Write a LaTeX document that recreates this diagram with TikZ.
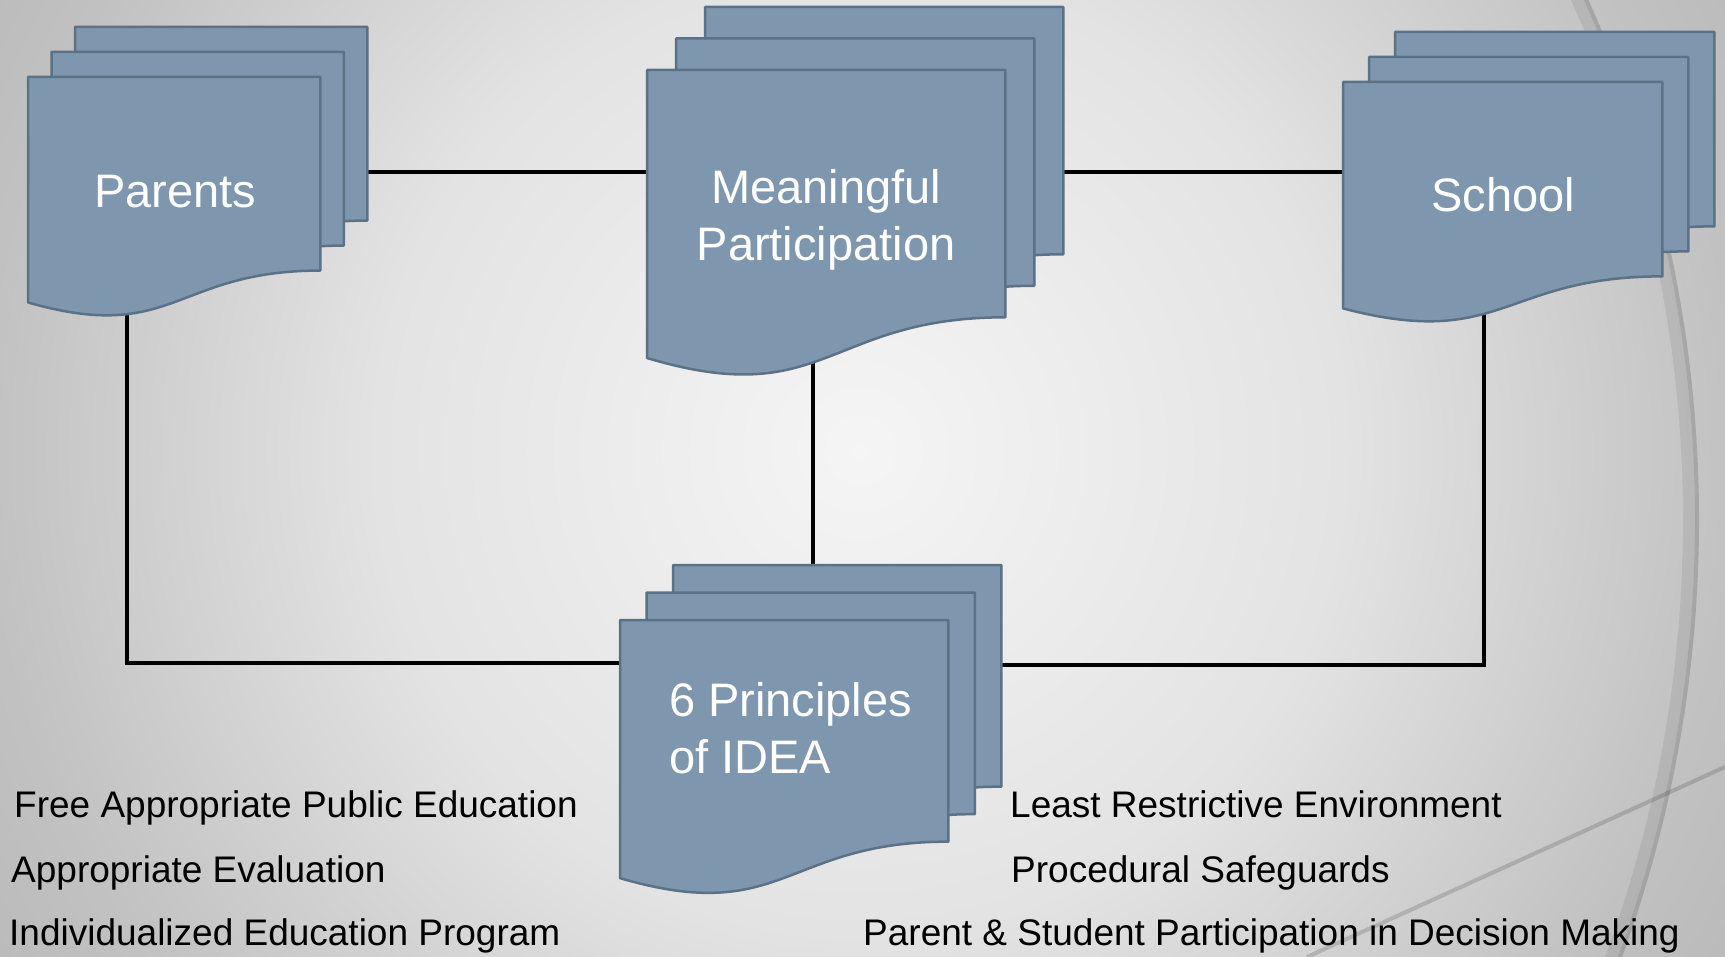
\documentclass[tikz,border=0pt]{standalone}
\usepackage{fontspec}
\setmainfont{Liberation Sans}
\usetikzlibrary{calc,positioning}

\pgfdeclarelayer{background}
\pgfsetlayers{background,main}

\definecolor{sheetblue}{HTML}{7F97AE}
\definecolor{sheetedge}{HTML}{5B7186}
\definecolor{bgin}{gray}{0.96}
\definecolor{bgmid}{gray}{0.89}
\definecolor{bgout}{gray}{0.76}
\definecolor{bgedge}{gray}{0.73}
\pgfdeclareradialshading{bgglow}{\pgfpoint{0bp}{0bp}}{color(0bp)=(bgin); color(12bp)=(bgmid); color(21.5bp)=(bgout); color(25bp)=(bgedge); color(50bp)=(bgedge)}

% one page with the wavy foot
\newcommand{\docpage}[1]{%
  \filldraw[page] (#1.north west) -- (#1.north east)
    -- ($(#1.north east)!0.8019!(#1.south east)$)
    .. controls ($(#1.north)!0.8019!(#1.south)$) and ($(#1.north)!1.1075!(#1.south)$)
    .. ($(#1.north west)!0.9339!(#1.south west)$) -- cycle;}
% three pages, back to front: name, x, y, width, height, dx, dy
\newcommand{\docstack}[7]{%
  \foreach \k/\s in {3/2,2/1,1/0}{%
    \node[sheet,minimum width=#4pt,minimum height=#5pt] (#1\k) at (#2+\s*#6,#3-\s*#7) {};
    \docpage{#1\k}
  }}

\begin{document}
\begin{tikzpicture}[x=1pt,y=-1pt,
        sheet/.style={rectangle,inner sep=0pt,anchor=north west},
        page/.style={fill=sheetblue,draw=sheetedge,line width=2.5pt,line join=round},
        link/.style={draw=black,line width=4.5pt},
        bgarc/.style={draw=black,opacity=0.15,line width=4pt},
        boxtext/.style={text=white,inner sep=0pt,font=\fontsize{47}{57}\selectfont},
        listtext/.style={inner sep=0pt,anchor=base west,font=\fontsize{37}{44}\selectfont}]

    % backdrop
    \begin{pgfonlayer}{background}
        \fill[bgedge] (0,0) rectangle (1725,957);
        \begin{scope}
            \clip (0,0) rectangle (1725,957);
            \shade[shading=bgglow] (860,450) circle (1010pt);
            \draw[bgarc] (424,520) circle (1273pt);
            \draw[bgarc,opacity=0.07,line width=12pt] (424,520) circle (1265pt);
            \draw[bgarc] (1725,767) -- (1307,957);
        \end{scope}
    \end{pgfonlayer}
    \useasboundingbox (0,0) rectangle (1725,957);

    % stacks
    \docstack{par}{28}{77}{292}{241}{23.5}{25}
    \docstack{mp}{647}{70}{358}{308}{29}{31.5}
    \docstack{sch}{1343}{82}{319}{242}{26}{25}
    \docstack{pr}{620}{620}{328}{276}{26.5}{27.5}

    \node[boxtext,anchor=base] (partxt) at (175,208) {Parents};
    \node[boxtext,anchor=north,align=center] (mptxt) at (826,169) {Meaningful\\Participation};
    \node[boxtext,anchor=base] (schtxt) at (1503,212) {School};
    \node[boxtext,anchor=north west,align=left] (prtxt) at (669,682) {6 Principles\\of IDEA};

    % rails behind the stacks
    \coordinate (jt) at (0,172);
    \coordinate (jl) at (127,663);
    \coordinate (jr) at (1484,665);
    \coordinate (jm) at (813,450);
    \begin{pgfonlayer}{background}
        \draw[link] (par1.center |- jt) -- (sch1.center |- jt);
        \draw[link] (par1.center -| jl) -- (jl) -- (jl -| pr1.center);
        \draw[link] (mp1.center -| jm) -- (pr1.center -| jm);
        \draw[link] (sch1.center -| jr) -- (jr) -- (jr -| pr1.center);
    \end{pgfonlayer}

    % the six principles
    \node[listtext] (fape) at (14,817) {Free Appropriate Public Education};
    \node[listtext] (eval) at (11,882) {Appropriate Evaluation};
    \node[listtext] (iep) at (9,945) {Individualized Education Program};
    \node[listtext] (lre) at (1010,817) {Least Restrictive Environment};
    \node[listtext] (safe) at (1011,882) {Procedural Safeguards};
    \node[listtext] (psp) at (863,945) {Parent \& Student Participation in Decision Making};
\end{tikzpicture}
\end{document}
